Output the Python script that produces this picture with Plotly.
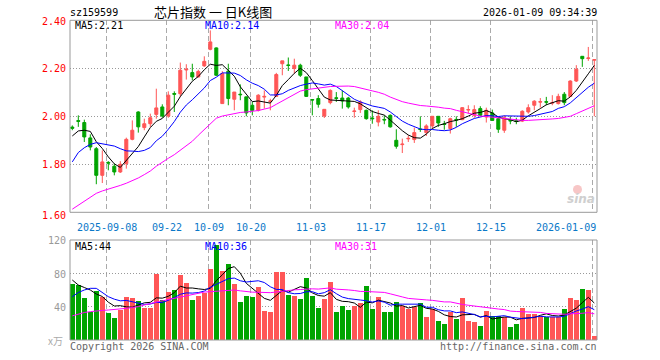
import plotly.graph_objects as go

# ---------------- data ----------------
dates = [
    "2025-08-29", "2025-09-01", "2025-09-02", "2025-09-03", "2025-09-04", "2025-09-05",
    "2025-09-08", "2025-09-09", "2025-09-10", "2025-09-11", "2025-09-12",
    "2025-09-15", "2025-09-16", "2025-09-17", "2025-09-18", "2025-09-19",
    "2025-09-22", "2025-09-23", "2025-09-24", "2025-09-25", "2025-09-26",
    "2025-09-29", "2025-09-30", "2025-10-09", "2025-10-10",
    "2025-10-13", "2025-10-14", "2025-10-15", "2025-10-16", "2025-10-17",
    "2025-10-20", "2025-10-21", "2025-10-22", "2025-10-23", "2025-10-24",
    "2025-10-27", "2025-10-28", "2025-10-29", "2025-10-30", "2025-10-31",
    "2025-11-03", "2025-11-04", "2025-11-05", "2025-11-06", "2025-11-07",
    "2025-11-10", "2025-11-11", "2025-11-12", "2025-11-13", "2025-11-14",
    "2025-11-17", "2025-11-18", "2025-11-19", "2025-11-20", "2025-11-21",
    "2025-11-24", "2025-11-25", "2025-11-26", "2025-11-27", "2025-11-28",
    "2025-12-01", "2025-12-02", "2025-12-03", "2025-12-04", "2025-12-05",
    "2025-12-08", "2025-12-09", "2025-12-10", "2025-12-11", "2025-12-12",
    "2025-12-15", "2025-12-16", "2025-12-17", "2025-12-18", "2025-12-19",
    "2025-12-22", "2025-12-23", "2025-12-24", "2025-12-25", "2025-12-26",
    "2025-12-29", "2025-12-30", "2025-12-31",
    "2026-01-05", "2026-01-06", "2026-01-07", "2026-01-08", "2026-01-09",
]

opens = [1.955, 1.982, 1.974, 1.910, 1.865, 1.754, 1.808, 1.792, 1.768, 1.803,
         1.904, 2.018, 1.953, 1.969, 2.008, 2.039, 2.001, 2.095, 2.094, 2.193,
         2.182, 2.164, 2.210, 2.279, 2.285, 2.053, 2.188, 2.071, 2.092, 2.081,
         2.046, 2.025, 2.080, 2.062, 2.083, 2.219, 2.214, 2.199, 2.213, 2.164,
         2.070, 2.074, 2.001, 2.057, 2.077, 2.076, 2.076, 2.020, 2.028, 2.025,
         1.993, 1.976, 1.987, 2.004, 1.900, 1.882, 1.906, 1.903, 1.947, 1.932,
         1.960, 2.000, 1.968, 1.949, 1.987, 1.986, 2.026, 2.004, 2.032, 1.997,
         2.014, 1.990, 1.942, 1.983, 1.981, 1.980, 2.018, 2.046, 2.059, 2.061,
         2.055, 2.053, 2.092, 2.083, 2.147, 2.250, 2.241, 2.234]
highs = [1.962, 2.004, 1.986, 1.925, 1.872, 1.858, 1.813, 1.803, 1.813, 1.911,
         1.983, 2.021, 1.990, 2.011, 2.115, 2.050, 2.104, 2.104, 2.224, 2.217,
         2.219, 2.194, 2.250, 2.358, 2.287, 2.188, 2.219, 2.101, 2.133, 2.081,
         2.060, 2.092, 2.108, 2.073, 2.181, 2.231, 2.245, 2.240, 2.219, 2.164,
         2.070, 2.088, 2.029, 2.112, 2.101, 2.108, 2.081, 2.036, 2.067, 2.028,
         2.025, 2.025, 2.004, 2.008, 1.946, 1.907, 1.921, 1.953, 2.000, 1.967,
         2.000, 2.000, 1.981, 1.994, 2.000, 2.038, 2.046, 2.046, 2.042, 2.036,
         2.028, 1.997, 2.004, 2.000, 1.994, 2.025, 2.050, 2.067, 2.076, 2.081,
         2.088, 2.094, 2.101, 2.150, 2.213, 2.250, 2.289, 2.237]
lows = [1.942, 1.956, 1.893, 1.858, 1.717, 1.722, 1.775, 1.754, 1.764, 1.782,
        1.900, 1.932, 1.942, 1.956, 1.990, 1.994, 1.994, 2.018, 2.081, 2.153,
        2.150, 2.162, 2.206, 2.275, 2.168, 2.053, 2.046, 2.025, 2.067, 2.000,
        2.004, 2.020, 2.032, 2.025, 2.081, 2.171, 2.189, 2.178, 2.164, 2.081,
        2.004, 2.036, 1.993, 2.050, 2.060, 2.032, 2.032, 1.994, 2.014, 1.986,
        1.969, 1.958, 1.967, 1.953, 1.865, 1.847, 1.893, 1.889, 1.935, 1.918,
        1.946, 1.956, 1.944, 1.928, 1.956, 1.984, 2.011, 1.994, 2.000, 1.974,
        1.981, 1.931, 1.931, 1.967, 1.967, 1.976, 2.011, 2.025, 2.036, 2.046,
        2.046, 2.049, 2.046, 2.081, 2.143, 2.206, 2.231, 2.000]
closes = [1.950, 1.979, 1.914, 1.872, 1.754, 1.810, 1.805, 1.768, 1.800, 1.904,
          1.942, 1.956, 1.969, 1.994, 2.035, 2.001, 2.088, 2.092, 2.192, 2.196,
          2.164, 2.187, 2.229, 2.310, 2.171, 2.178, 2.074, 2.101, 2.090, 2.014,
          2.025, 2.088, 2.083, 2.064, 2.174, 2.231, 2.212, 2.213, 2.171, 2.083,
          2.068, 2.050, 2.029, 2.108, 2.075, 2.064, 2.039, 2.022, 2.060, 1.990,
          1.990, 2.000, 1.985, 1.956, 1.875, 1.884, 1.908, 1.932, 1.945, 1.960,
          2.000, 1.972, 1.966, 1.990, 1.985, 2.036, 2.028, 2.028, 2.004, 2.025,
          1.983, 1.946, 1.994, 1.981, 1.979, 2.021, 2.036, 2.063, 2.061, 2.059,
          2.057, 2.083, 2.057, 2.147, 2.196, 2.240, 2.243, 2.236]

ma5 = [1.918, 1.939, 1.942, 1.937, 1.894, 1.866, 1.831, 1.802, 1.787, 1.817,
       1.844, 1.874, 1.914, 1.953, 1.979, 1.991, 2.017, 2.042, 2.082, 2.114,
       2.146, 2.166, 2.194, 2.217, 2.212, 2.215, 2.192, 2.167, 2.123, 2.091,
       2.061, 2.064, 2.060, 2.055, 2.087, 2.128, 2.153, 2.179, 2.200, 2.182,
       2.149, 2.117, 2.080, 2.068, 2.066, 2.065, 2.063, 2.062, 2.052, 2.035,
       2.020, 2.012, 2.005, 1.984, 1.961, 1.940, 1.922, 1.911, 1.909, 1.926,
       1.949, 1.962, 1.969, 1.978, 1.983, 1.990, 2.001, 2.013, 2.016, 2.024,
       2.014, 1.997, 1.990, 1.986, 1.977, 1.984, 2.002, 2.016, 2.032, 2.048,
       2.055, 2.065, 2.063, 2.081, 2.108, 2.145, 2.177, 2.212]
ma10 = [1.810, 1.849, 1.869, 1.883, 1.890, 1.886, 1.882, 1.876, 1.865, 1.856,
        1.855, 1.853, 1.858, 1.870, 1.898, 1.917, 1.946, 1.978, 2.017, 2.047,
        2.069, 2.092, 2.118, 2.149, 2.163, 2.181, 2.179, 2.180, 2.170, 2.152,
        2.138, 2.128, 2.113, 2.089, 2.089, 2.094, 2.108, 2.119, 2.128, 2.134,
        2.139, 2.135, 2.130, 2.134, 2.124, 2.107, 2.090, 2.071, 2.060, 2.051,
        2.043, 2.038, 2.033, 2.018, 1.998, 1.980, 1.967, 1.958, 1.947, 1.944,
        1.945, 1.942, 1.940, 1.943, 1.954, 1.969, 1.981, 1.991, 1.997, 2.003,
        2.002, 1.999, 2.002, 2.001, 2.000, 1.999, 2.000, 2.003, 2.009, 2.012,
        2.020, 2.033, 2.040, 2.056, 2.078, 2.100, 2.121, 2.138]
ma30 = [1.613, 1.629, 1.646, 1.664, 1.679, 1.689, 1.696, 1.704, 1.712, 1.721,
        1.731, 1.743, 1.757, 1.772, 1.792, 1.810, 1.825, 1.840, 1.858, 1.876,
        1.896, 1.921, 1.944, 1.969, 1.992, 2.001, 2.007, 2.012, 2.016, 2.018,
        2.020, 2.024, 2.030, 2.036, 2.050, 2.064, 2.078, 2.093, 2.105, 2.111,
        2.115, 2.118, 2.120, 2.124, 2.125, 2.127, 2.126, 2.124, 2.119, 2.112,
        2.106, 2.100, 2.092, 2.080, 2.070, 2.061, 2.055, 2.049, 2.045, 2.043,
        2.042, 2.038, 2.034, 2.032, 2.025, 2.019, 2.013, 2.007, 2.001, 1.999,
        1.996, 1.993, 1.992, 1.987, 1.984, 1.983, 1.983, 1.984, 1.984, 1.986,
        1.989, 1.991, 1.994, 2.000, 2.011, 2.023, 2.034, 2.044]

volume = [67, 66, 50, 34, 59, 52, 32, 27, 36, 52,
          50, 47, 38, 39, 79, 48, 58, 60, 78, 68,
          48, 53, 56, 85, 114, 83, 91, 67, 46, 53,
          52, 64, 35, 34, 82, 82, 54, 53, 49, 74,
          53, 38, 49, 70, 34, 41, 36, 41, 44, 65,
          37, 52, 34, 34, 46, 41, 37, 40, 44, 28,
          37, 23, 19, 34, 25, 50, 23, 22, 17, 35,
          29, 29, 28, 16, 19, 38, 31, 31, 29, 28,
          28, 28, 37, 50, 48, 61, 60, 5]
vma5 = [72, 66, 63, 60, 55.2, 52.2, 45.4, 40.8, 41.2, 39.8,
        39.4, 42.4, 44.6, 45.2, 50.6, 50.2, 52.4, 56.8, 64.6, 62.4,
        62.4, 61.4, 60.6, 62.0, 71.2, 78.2, 85.8, 88.0, 80.2, 68.0,
        61.8, 56.4, 50.0, 47.6, 53.4, 59.4, 57.4, 61.0, 64.0, 62.4,
        56.6, 53.4, 52.6, 56.8, 48.8, 46.4, 46.0, 44.4, 39.2, 45.4,
        44.6, 47.8, 46.4, 44.4, 40.6, 41.4, 38.4, 39.6, 41.6, 38.0,
        37.2, 34.4, 30.2, 28.2, 27.6, 30.2, 30.2, 30.8, 27.4, 29.4,
        25.2, 26.4, 27.6, 27.4, 24.2, 26.0, 26.4, 27.0, 29.6, 31.4,
        29.4, 28.8, 30.0, 34.2, 38.2, 44.8, 51.2, 44.4]
vma10 = [52, 57, 60, 62, 62, 57, 52, 49, 47, 47.5,
         45.8, 43.9, 42.7, 43.2, 45.2, 44.8, 47.4, 50.7, 54.9, 56.5,
         56.3, 56.9, 58.7, 63.3, 66.8, 70.3, 73.6, 74.3, 71.1, 69.6,
         70.0, 71.1, 69.0, 63.9, 60.7, 60.6, 56.9, 55.5, 55.8, 57.9,
         58.0, 55.4, 56.8, 60.4, 55.6, 51.5, 49.7, 48.5, 48.0, 47.1,
         45.5, 46.9, 45.4, 41.8, 43.0, 43.0, 43.1, 43.0, 43.0, 39.3,
         39.3, 36.4, 34.9, 34.9, 32.8, 33.7, 32.3, 30.5, 27.8, 28.5,
         27.7, 28.3, 29.2, 27.4, 26.8, 25.6, 26.4, 27.3, 28.5, 27.8,
         27.7, 27.6, 28.5, 31.9, 34.8, 37.1, 40.0, 36.4]
vma30 = [29, 31, 33, 34, 35, 35.5, 36, 36.5, 37, 38,
         39, 40, 42, 44, 45.5, 47, 48.5, 50, 51.5, 53,
         55, 56.5, 57.5, 58, 58.5, 59, 59.5, 60, 59, 57.9,
         57.4, 57.3, 56.8, 56.8, 57.6, 58.6, 59.3, 60.2, 60.6, 61.3,
         61.4, 61.1, 61.5, 62.5, 61.0, 60.8, 60.1, 59.4, 58.3, 58.2,
         57.8, 57.8, 57.1, 55.4, 53.1, 51.7, 49.9, 49.0, 48.9, 48.1,
         47.6, 46.2, 45.7, 45.7, 43.8, 42.7, 41.7, 40.7, 39.6, 38.3,
         37.5, 37.2, 36.5, 34.7, 34.2, 34.1, 33.9, 33.6, 33.1, 31.9,
         31.6, 30.8, 30.9, 31.4, 31.5, 32.1, 32.9, 31.4]

tick_dates = ["2025-09-08", "2025-09-22", "2025-10-09", "2025-10-20", "2025-11-03",
              "2025-11-17", "2025-12-01", "2025-12-15", "2026-01-09"]
tick_text = ["2025-09-08", "09-22", "10-09", "10-20", "11-03",
             "11-17", "12-01", "12-15", "2026-01-09"]
price_ticks = [1.60, 1.80, 2.00, 2.20, 2.40]
vol_ticks = [40, 80, 120]

symbol = "sz159599"
title = "芯片指数 一 日K线图"
timestamp = "2026-01-09 09:34:39"

# ---------------- styles ----------------
W, H = 660, 360
RED = "#ff5656"
GREEN = "#00a400"
MONO = "DejaVu Sans Mono"
CJK = "Noto Sans CJK SC"
L_PX, R_PX = 70, 597
P_TOP, P_BOT = 20.3, 212.3
V_TOP, V_BOT = 240, 340


def px(xp):
    return xp / W


def py(yp):
    return 1 - yp / H


x = list(range(len(dates)))
xr = [-0.383, 87.45]
tick_pos = [dates.index(d) - 0.22 for d in tick_dates]

fig = go.Figure()

fig.add_trace(go.Candlestick(
    x=x, open=opens, high=highs, low=lows, close=closes,
    increasing=dict(line=dict(color=RED, width=1), fillcolor=RED),
    decreasing=dict(line=dict(color=GREEN, width=1), fillcolor=GREEN),
    whiskerwidth=0, hoverinfo="skip", xaxis="x", yaxis="y"))

for arr, col in ((ma5, "#000000"), (ma10, "#0000ff"), (ma30, "#ff00ff")):
    fig.add_trace(go.Scatter(x=x, y=arr, mode="lines", line=dict(color=col, width=1),
                             hoverinfo="skip", xaxis="x", yaxis="y"))

bar_colors = [RED if c >= o else GREEN for o, c in zip(opens, closes)]
fig.add_trace(go.Bar(x=x, y=volume, marker=dict(color=bar_colors, line=dict(width=0)),
                     width=0.8, hoverinfo="skip", xaxis="x2", yaxis="y2"))
for arr, col in ((vma5, "#000000"), (vma10, "#0000ff"), (vma30, "#ff00ff")):
    fig.add_trace(go.Scatter(x=x, y=arr, mode="lines", line=dict(color=col, width=1),
                             hoverinfo="skip", xaxis="x2", yaxis="y2"))

xdom = [px(L_PX), px(R_PX)]
common_x = dict(domain=xdom, range=xr, tickvals=tick_pos, showticklabels=False,
                showgrid=True, gridcolor="#aaaaaa", griddash="5px,3px", gridwidth=1,
                zeroline=False, ticks="", showline=False, fixedrange=True)

fig.update_layout(
    width=W, height=H, margin=dict(l=0, r=0, t=0, b=0),
    paper_bgcolor="white", plot_bgcolor="white",
    showlegend=False, boxgap=0.28, bargap=0,
    xaxis=dict(**common_x, anchor="y", rangeslider=dict(visible=False)),
    xaxis2=dict(**common_x, anchor="y2"),
    yaxis=dict(domain=[py(P_BOT), py(P_TOP)], range=[1.60, 2.40],
               tickvals=price_ticks[1:-1], showticklabels=False, showgrid=True,
               gridcolor="#999999", griddash="1px,2px", gridwidth=1,
               zeroline=False, ticks="", anchor="x", fixedrange=True),
    yaxis2=dict(domain=[py(V_BOT), py(V_TOP)], range=[0, 120],
                tickvals=vol_ticks[:-1], showticklabels=False, showgrid=True,
                gridcolor="#999999", griddash="1px,2px", gridwidth=1,
                zeroline=False, ticks="", anchor="x2", fixedrange=True),
)

# panel borders
fig.add_shape(type="rect", xref="x domain", yref="y domain", x0=0, x1=1, y0=0, y1=1,
              line=dict(color="#999999", width=1), layer="above")
fig.add_shape(type="rect", xref="x2 domain", yref="y2 domain", x0=0, x1=1, y0=0, y1=1,
              line=dict(color="#999999", width=1), layer="above")
# sina eye logo (pale)
fig.add_shape(type="circle", xref="paper", yref="paper",
              x0=px(573), x1=px(582), y0=py(194), y1=py(185),
              fillcolor="#f7c6c6", line=dict(width=0), layer="below")

ann = []


def text(xp, yp, s, color="#000000", size=10, anchor="left", family=MONO):
    ann.append(dict(x=px(xp), y=py(yp), xref="paper", yref="paper", text=s,
                    showarrow=False, xanchor=anchor, yanchor="middle", borderpad=0,
                    font=dict(family=family, size=size, color=color)))


text(L_PX - 1, 12.5, symbol)
text(213, 12, title, size=13, anchor="center", family=CJK)
text(R_PX + 1, 12.5, timestamp, anchor="right")

text(74, 26, f"MA5:{ma5[-1]:.2f}", "#000000")
text(204, 26, f"MA10:{ma10[-1]:.2f}", "#0000ff")
text(334, 26, f"MA30:{ma30[-1]:.2f}", "#ff00ff")

text(74, 246.5, f"MA5:{int(vma5[-1])}", "#000000")
text(204, 246.5, f"MA10:{int(vma10[-1])}", "#0000ff")
text(334, 246.5, f"MA30:{int(vma30[-1])}", "#ff00ff")

# price axis labels
for v in price_ticks:
    yp = P_BOT - (v - 1.60) / 0.80 * (P_BOT - P_TOP)
    if v == price_ticks[0]:
        yp += 3.5
    elif v == price_ticks[-1]:
        yp += 1.3
    text(66.5, yp, f"{v:.2f}", "#ff0000", anchor="right")

# volume axis labels
for v in vol_ticks:
    yp = V_BOT - v / 120 * (V_BOT - V_TOP)
    text(66.5, yp + 0.7, str(v), "#999999", anchor="right")
text(64, 340.5, "x万", "#aaaaaa", size=10, anchor="right", family=CJK)

# date labels
for pos, lab in zip(tick_pos, tick_text):
    is_last = lab == tick_text[-1]
    ann.append(dict(x=pos if not is_last else xr[1], y=py(227.5), xref="x", yref="paper",
                    text=lab, showarrow=False, borderpad=0,
                    xanchor="right" if is_last else "center", yanchor="middle",
                    font=dict(family=MONO, size=10, color="#0a78c8")))

text(L_PX - 1, 346.5, "Copyright 2026 SINA.COM", "#666666")
text(R_PX + 1, 346.5, "http://finance.sina.com.cn", "#666666", anchor="right")

# watermark text
text(581, 199, "<b><i>sina</i></b>", "#cfcfcf", size=12, anchor="center",
     family="DejaVu Sans")

fig.update_layout(annotations=ann)

fig.write_html(
    "out.html",
    config={"displayModeBar": False},
    post_script="document.body.style.margin='0';document.body.style.overflow='hidden';",
)
